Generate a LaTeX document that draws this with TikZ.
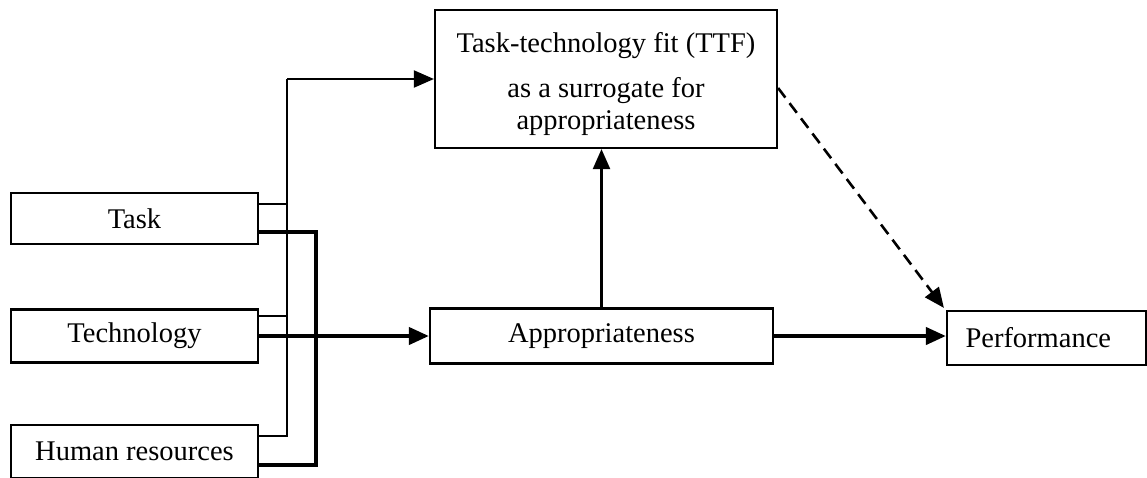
\documentclass[tikz,border=0pt]{standalone}
\usepackage{fontspec}
\setmainfont{Liberation Serif}
\usetikzlibrary{arrows.meta}
\begin{document}
\begin{tikzpicture}[x=1pt,y=-1pt,
  box/.style={draw, line width=2.2pt, inner sep=0pt, align=center,
    font=\fontsize{28.5}{32}\selectfont},
  thinline/.style={line width=2pt},
  thickline/.style={line width=4pt},
  tip/.style={-{Triangle[length=20pt,width=17pt]}},
  dashedline/.style={line width=2.6pt, dash pattern=on 12pt off 7pt}]
\useasboundingbox (0,0) rectangle (1147,477);
\clip (0,0) rectangle (1147,477);

% input boxes
\node[box, minimum width=247pt, minimum height=51pt] (task) at (134.5,218.5) {Task};
\node[box, minimum width=247pt, minimum height=53pt] (tech) at (134.5,336) {Technology};
\node[box, minimum width=247pt, minimum height=53pt] (hr) at (134.5,451.5) {Human resources};

% fit box, mediator, outcome
\node[box, align=none, minimum width=342pt, minimum height=138pt] (ttf) at (606,79)
  {\raisebox{-6pt}[\height][\depth]{\begin{tabular}{@{}c@{}}
    Task-technology fit (TTF)\\[13pt] as a surrogate for\\ appropriateness
  \end{tabular}}};
\node[box, minimum width=343pt, minimum height=55pt] (app) at (601.5,336) {Appropriateness};
\node[box, minimum width=199pt, minimum height=54pt, text width=190pt, align=left] (perf) at (1046.5,338)
  {\hspace*{14pt}Performance};

% bus lines
\coordinate (thinx) at (287,0);
\coordinate (thickx) at (316,0);

% thin bus towards the fit box
\draw[thinline] ([yshift=14.5pt]task.east) -- ([yshift=14.5pt]task.east -| thinx);
\draw[thinline] ([yshift=20pt]tech.east) -- ([yshift=20pt]tech.east -| thinx);
\draw[thinline] ([yshift=15.5pt]hr.east) -- ([yshift=15.5pt]hr.east -| thinx)
  -- (thinx |- ttf.west);
\draw[thinline, tip] (thinx |- ttf.west) -- (ttf.west);

% thick bus towards appropriateness
\draw[thickline] ([yshift=-13.5pt]task.east) -- ([yshift=-13.5pt]task.east -| thickx)
  -- ([yshift=-13.5pt]hr.east -| thickx) -- ([yshift=-13.5pt]hr.east);
\draw[thickline, tip] (tech.east) -- (app.west);

% remaining relations
\draw[thinline, line width=2.4pt, tip] (app.north) -- (app.north |- ttf.south);
\draw[thickline, tip] (app.east) -- (app.east -| perf.west);
\draw[dashedline, -{Triangle[length=20pt,width=17pt]}] ([yshift=-9pt]ttf.east) -- ([xshift=-2pt,yshift=2pt]perf.north west);
\end{tikzpicture}
\end{document}
